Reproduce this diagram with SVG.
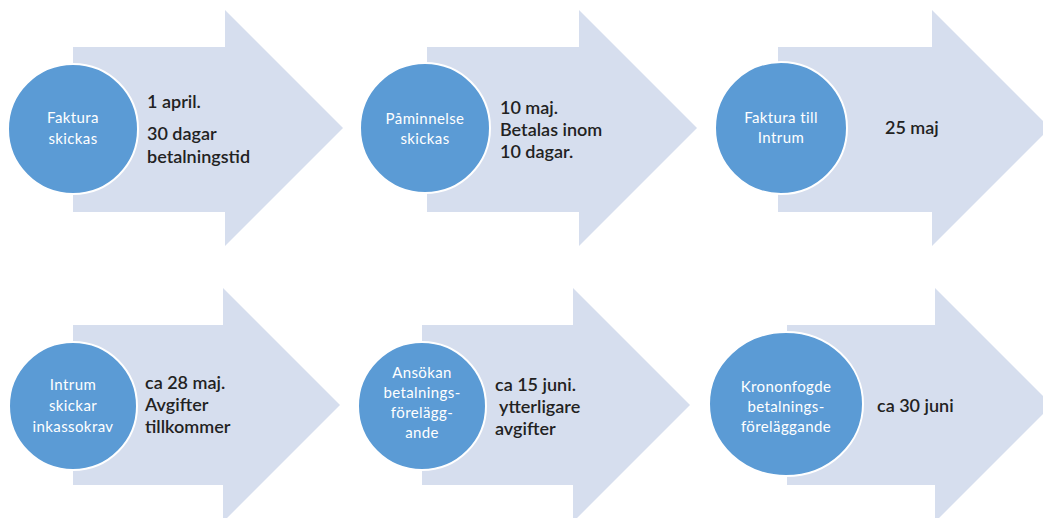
<svg xmlns="http://www.w3.org/2000/svg" width="1043" height="518" viewBox="0 0 1043 518">
<style>
.arrow{fill:#D6DEEE;}
.circ{fill:#5B9BD5;stroke:#FFFFFF;stroke-width:2;}
.ct{font-family:Lato,"Open Sans","Liberation Sans",sans-serif;font-size:15px;fill:#FFFFFF;text-anchor:middle;letter-spacing:0.4px;}
.at{font-family:Lato,"Open Sans","Liberation Sans",sans-serif;font-size:18px;font-weight:600;fill:#222222;}
</style>
<rect width="1043" height="518" fill="#FFFFFF"/>
<g id="connectors">
<path class="arrow" d="M73,47 H225 V10 L343,128 L225,246 V212 H73 Z"/>
<path class="arrow" d="M427,47 H579 V10 L697,128 L579,246 V212 H427 Z"/>
<path class="arrow" d="M778,47 H932 V10 L1050,128 L932,246 V212 H778 Z"/>
<path class="arrow" d="M73,325 H223 V288 L340,405 L223,522 V485 H73 Z"/>
<path class="arrow" d="M422,325 H573 V288 L690,405 L573,522 V485 H422 Z"/>
<path class="arrow" d="M787,325 H935 V288 L1052,405 L935,522 V485 H787 Z"/>
</g>
<g id="step1">
<circle class="circ" cx="73" cy="129" r="65"/>
<text class="ct" x="73" y="123">Faktura</text>
<text class="ct" x="73" y="144">skickas</text>
<text class="at" x="147" y="108">1 april.</text>
<text class="at" x="147" y="140">30 dagar</text>
<text class="at" x="147" y="163">betalningstid</text>
</g>
<g id="step2">
<circle class="circ" cx="425" cy="128" r="65"/>
<text class="ct" x="425" y="124">Påminnelse</text>
<text class="ct" x="425" y="144">skickas</text>
<text class="at" x="500" y="114">10 maj.</text>
<text class="at" x="500" y="136">Betalas inom</text>
<text class="at" x="500" y="158">10 dagar.</text>
</g>
<g id="step3">
<circle class="circ" cx="781" cy="128" r="66"/>
<text class="ct" x="781" y="123">Faktura till</text>
<text class="ct" x="781" y="143">Intrum</text>
<text class="at" x="885" y="134">25 maj</text>
</g>
<g id="step4">
<circle class="circ" cx="73" cy="406" r="64"/>
<text class="ct" x="73" y="390">Intrum</text>
<text class="ct" x="73" y="411">skickar</text>
<text class="ct" x="73" y="432">inkassokrav</text>
<text class="at" x="145" y="389">ca 28 maj.</text>
<text class="at" x="145" y="411">Avgifter</text>
<text class="at" x="145" y="433">tillkommer</text>
</g>
<g id="step5">
<circle class="circ" cx="422" cy="406" r="64"/>
<text class="ct" x="422" y="378">Ansökan</text>
<text class="ct" x="422" y="398">betalnings-</text>
<text class="ct" x="422" y="418">förelägg-</text>
<text class="ct" x="422" y="438">ande</text>
<text class="at" x="495" y="391">ca 15 juni.</text>
<text class="at" x="499" y="413">ytterligare</text>
<text class="at" x="495" y="435">avgifter</text>
</g>
<g id="step6">
<ellipse class="circ" cx="786" cy="404" rx="77" ry="72"/>
<text class="ct" x="786" y="392">Krononfogde</text>
<text class="ct" x="786" y="412">betalnings-</text>
<text class="ct" x="786" y="432">föreläggande</text>
<text class="at" x="877" y="412">ca 30 juni</text>
</g>
</svg>
